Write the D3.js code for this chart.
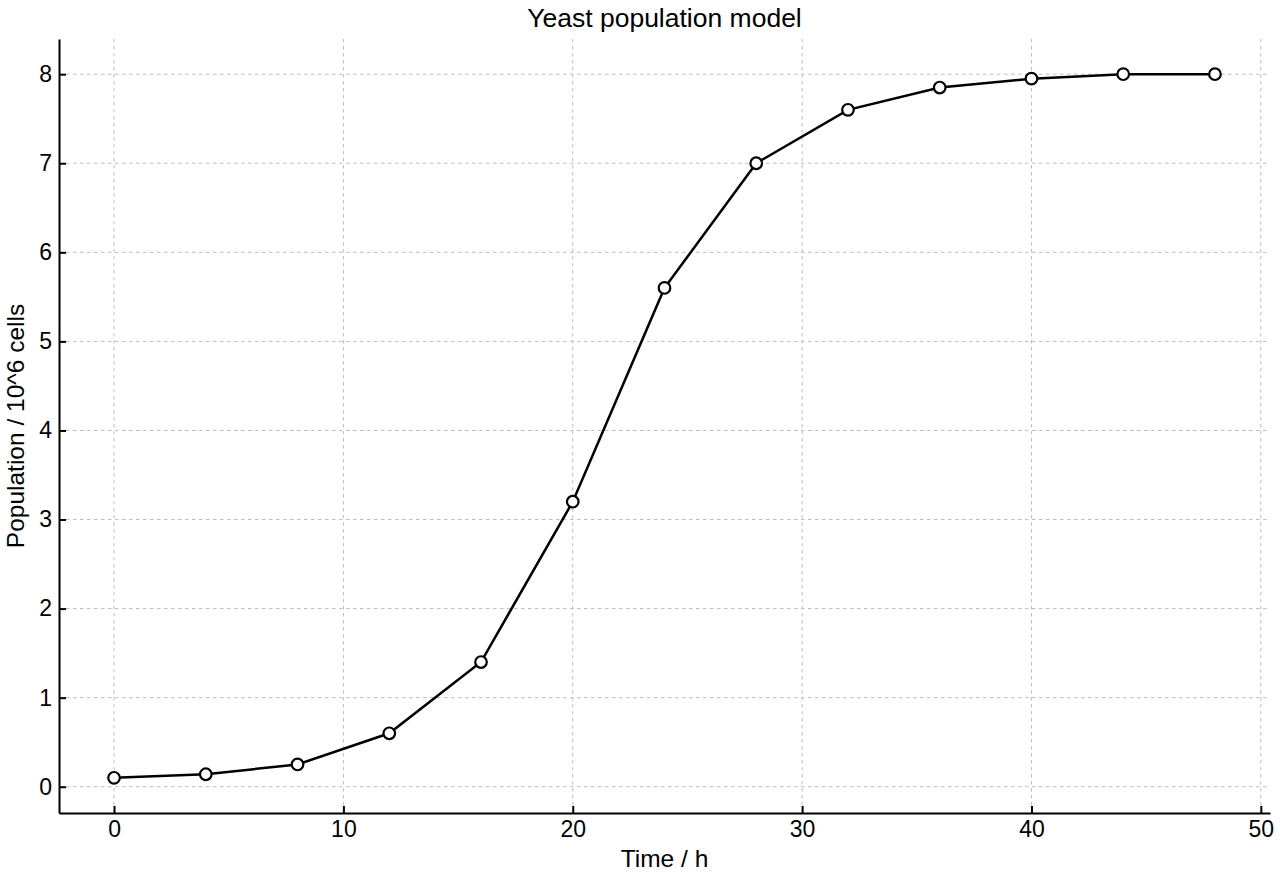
<!DOCTYPE html>
<html>
<head>
<meta charset="utf-8">
<script src="https://cdn.jsdelivr.net/npm/d3@7"></script>
<style>
  body { margin: 0; background: #fff; }
  text { font-family: "Liberation Sans", Arial, sans-serif; fill: #000; }
</style>
</head>
<body>
<svg id="chart"></svg>
<script>
// data
const hours = [0, 4, 8, 12, 16, 20, 24, 28, 32, 36, 40, 44, 48];
const population = [0.1, 0.14, 0.25, 0.6, 1.4, 3.2, 5.6, 7.0, 7.6, 7.85, 7.95, 8.0, 8.0];
const xTicks = [0, 10, 20, 30, 40, 50];
const yTicks = [0, 1, 2, 3, 4, 5, 6, 7, 8];

const width = 1280, height = 880;
const margin = {top: 39, right: 10, bottom: 67, left: 59};
const w = width - margin.left - margin.right;
const h = height - margin.top - margin.bottom;

const svg = d3.select('#chart')
    .attr('width', width)
    .attr('height', height);

const chart = svg.append('g')
    .attr('transform', `translate(${margin.left},${margin.top})`);

// matplotlib-style 5% padding around data
const xPad = (d3.max(hours) - d3.min(hours)) * 0.05;
const yPad = (d3.max(population) - d3.min(population)) * 0.05;

const xScale = d3.scaleLinear()
    .domain([d3.min(hours) - xPad, d3.max(hours) + xPad])
    .range([0, w]);

const yScale = d3.scaleLinear()
    .domain([d3.min(population) - yPad, d3.max(population) + yPad])
    .range([h, 0]);

// grid
chart.append('g')
    .selectAll('line')
    .data(xTicks.filter(t => xScale(t) <= w))
    .join('line')
    .attr('x1', d => xScale(d)).attr('x2', d => xScale(d))
    .attr('y1', 0).attr('y2', h)
    .attr('stroke', '#bdbdbd').attr('stroke-width', 1)
    .attr('stroke-dasharray', '3.5,3.5');

chart.append('g')
    .selectAll('line')
    .data(yTicks)
    .join('line')
    .attr('x1', 0).attr('x2', w)
    .attr('y1', d => yScale(d)).attr('y2', d => yScale(d))
    .attr('stroke', '#bdbdbd').attr('stroke-width', 1)
    .attr('stroke-dasharray', '3.5,3.5');

// axes with inward ticks
const xAxis = d3.axisBottom(xScale)
    .tickValues(xTicks)
    .tickSizeInner(-7)
    .tickSizeOuter(0)
    .tickPadding(8);

const yAxis = d3.axisLeft(yScale)
    .tickValues(yTicks)
    .tickSizeInner(-7)
    .tickSizeOuter(0)
    .tickPadding(7);

const xAxisG = chart.append('g')
    .attr('transform', `translate(0,${h})`)
    .call(xAxis);

const yAxisG = chart.append('g')
    .call(yAxis);

[xAxisG, yAxisG].forEach(g => {
    g.attr('font-size', 23);
    g.select('.domain').attr('stroke', '#000').attr('stroke-width', 2);
    g.selectAll('.tick line').attr('stroke', '#000').attr('stroke-width', 2);
    g.selectAll('.tick text').attr('fill', '#000');
});

// line
const line = d3.line()
    .x((d, i) => xScale(hours[i]))
    .y(d => yScale(d));

chart.append('path')
    .datum(population)
    .attr('fill', 'none')
    .attr('stroke', '#000')
    .attr('stroke-width', 2.5)
    .attr('d', line);

chart.append('g')
    .selectAll('circle')
    .data(population)
    .join('circle')
    .attr('cx', (d, i) => xScale(hours[i]))
    .attr('cy', d => yScale(d))
    .attr('r', 5.8)
    .attr('fill', '#fff')
    .attr('stroke', '#000')
    .attr('stroke-width', 2.2);

// labels
svg.append('text')
    .attr('x', margin.left + w / 2)
    .attr('y', 27)
    .attr('text-anchor', 'middle')
    .attr('font-size', 26.5)
    .text('Yeast population model');

svg.append('text')
    .attr('x', margin.left + w / 2)
    .attr('y', 867)
    .attr('text-anchor', 'middle')
    .attr('font-size', 24.5)
    .text('Time / h');

svg.append('text')
    .attr('transform', `translate(24,${margin.top + h / 2}) rotate(-90)`)
    .attr('text-anchor', 'middle')
    .attr('font-size', 24.5)
    .text('Population / 10^6 cells');
</script>
</body>
</html>
